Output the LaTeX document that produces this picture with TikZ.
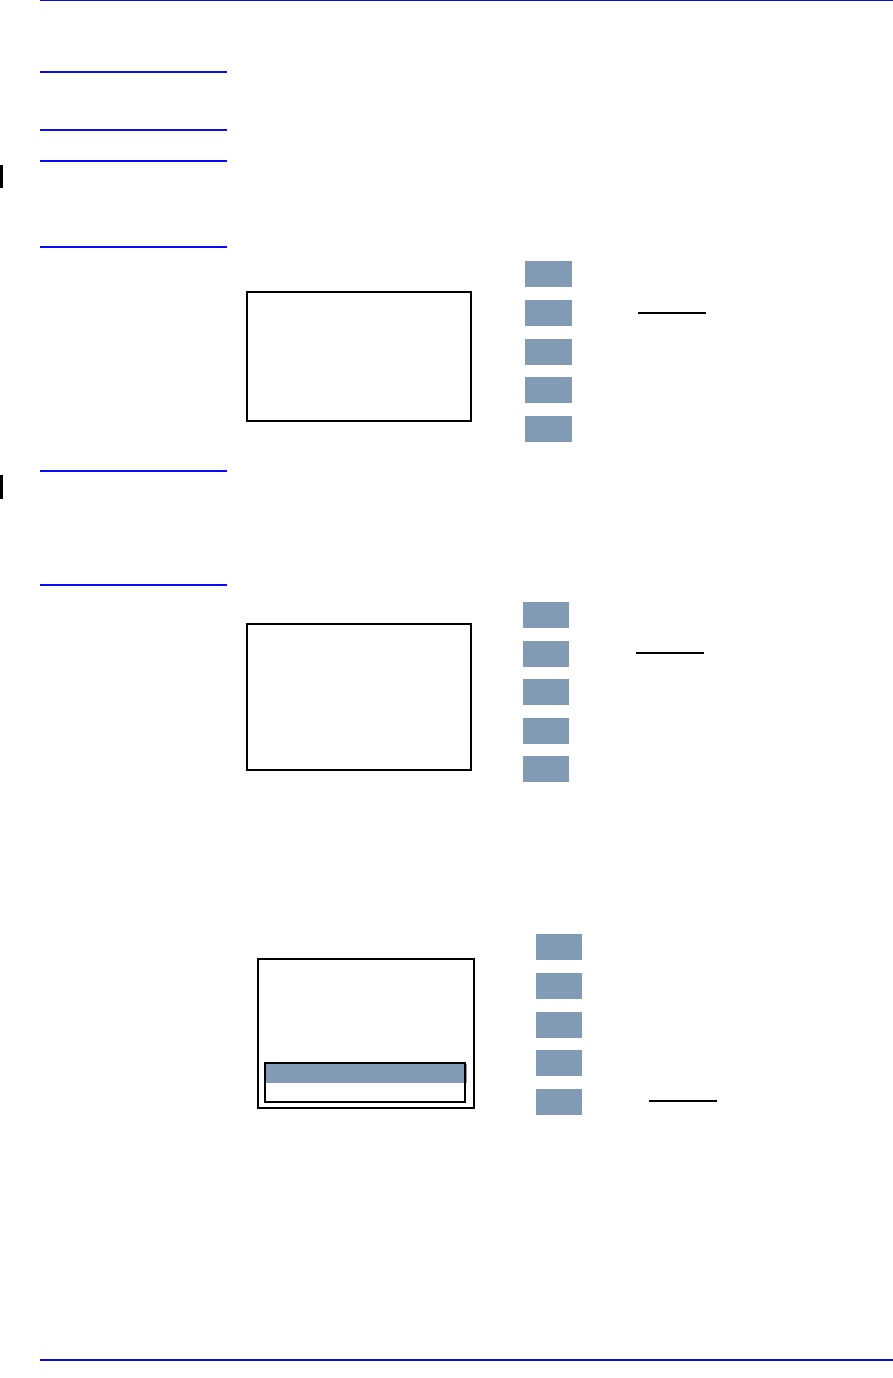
\documentclass[tikz,border=0pt]{standalone}
\definecolor{rule}{RGB}{10,10,245}
\definecolor{btn}{RGB}{129,155,180}
\tikzset{
  px/.style={x=1pt,y=-1pt},
  thinrule/.style={draw=rule,line width=1.2pt},
  thickrule/.style={draw=rule,line width=2pt},
  screen/.style={draw=black,line width=1.7pt},
  softkey/.style={fill=btn,draw=none},
  uline/.style={draw=black,line width=1.6pt},
  changebar/.style={fill=black,draw=none}
}
\begin{document}
\begin{tikzpicture}[px]
\useasboundingbox (0,0) rectangle (893,1378);
% header and footer rules
\draw[thinrule] (40,0.8) -- (893,0.8);
\draw[thinrule] (40,1360) -- (893,1360);
% short heading rules
\foreach \y in {72.5,130.5,160.5,246.5,471,585}
  \draw[thickrule] (40,\y) -- (227,\y);
% change bars
\fill[changebar] (0,165) rectangle (3,188);
\fill[changebar] (0,475) rectangle (3,499);
% panel 1
\draw[screen] (247,292) rectangle (471,421);
\foreach \y in {261,300,339,377,416}
  \fill[softkey] (525,\y) rectangle (572,\y+26);
\draw[uline] (638,312.7) -- (706,312.7);
% panel 2
\draw[screen] (247,624) rectangle (471,770);
\foreach \y in {602,641,679,718,756}
  \fill[softkey] (523,\y) rectangle (569,\y+26);
\draw[uline,line width=1.3pt] (636,653) -- (704,653);
% panel 3
\draw[screen] (258,959) rectangle (474,1108);
\fill[softkey] (265,1064) rectangle (467,1083);
\draw[screen,line width=1.4pt] (265,1063) rectangle (465,1102);
\foreach \y in {934,973,1012,1050,1089}
  \fill[softkey] (536,\y) rectangle (582,\y+26);
\draw[uline] (649,1101) -- (717,1101);
\end{tikzpicture}
\end{document}
